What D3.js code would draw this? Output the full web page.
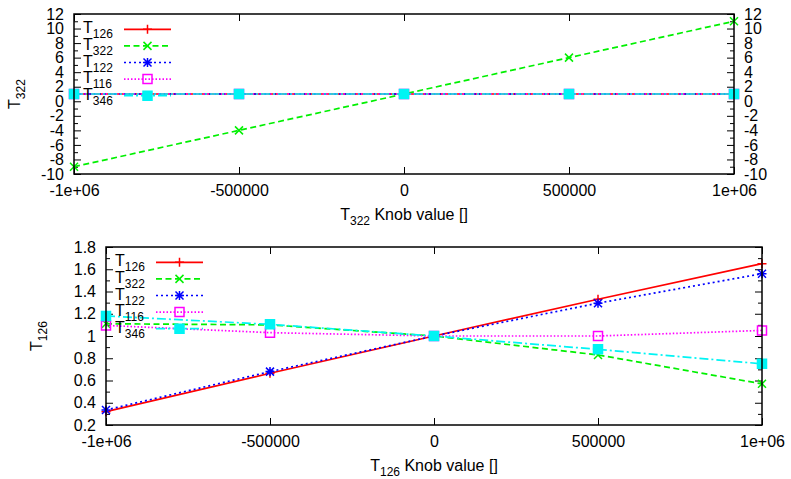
<!DOCTYPE html>
<html>
<head>
<meta charset="utf-8">
<script src="https://cdn.jsdelivr.net/npm/d3@7"></script>
<style>
  body { margin: 0; background: #fff; }
  svg { display: block; font-family: "Liberation Sans", Arial, sans-serif; }
</style>
</head>
<body>
<div id="chart"></div>
<script>
// knob values shared by both panels
const knob = [-1e6, -5e5, 0, 5e5, 1e6];
const knobLabels = ["-1e+06", "-500000", "0", "500000", "1e+06"];
const seriesIds = ["126", "322", "122", "116", "346"];

// top panel: scanning T322
const topT126 = [1, 1, 1, 1, 1];
const topT322 = [-9, -4, 1, 6, 11];
const topT122 = [1, 1, 1, 1, 1];
const topT116 = [1, 1, 1, 1, 1];
const topT346 = [1, 1, 1, 1, 1];
const topYTicks = [-10, -8, -6, -4, -2, 0, 2, 4, 6, 8, 10, 12];

// bottom panel: scanning T126
const botT126 = [0.32, 0.665, 1.0, 1.33, 1.65];
const botT322 = [1.11, 1.10, 1.0, 0.83, 0.57];
const botT122 = [0.335, 0.68, 1.0, 1.295, 1.56];
const botT116 = [1.095, 1.03, 1.0, 1.0, 1.05];
const botT346 = [1.18, 1.105, 1.0, 0.88, 0.75];
const botYTicks = [0.2, 0.4, 0.6, 0.8, 1.0, 1.2, 1.4, 1.6, 1.8];

const styles = [
    {color: "#ff0000", dash: null, marker: "plus"},
    {color: "#00f000", dash: "6,3.5", marker: "cross"},
    {color: "#0000ff", dash: "2,3", marker: "star"},
    {color: "#ff00ff", dash: "1.5,2", marker: "box"},
    {color: "#00f4f4", dash: "9,3,2,3", marker: "fbox"}
];

const svg = d3.select("#chart").append("svg")
    .attr("width", 791)
    .attr("height", 479);

function markerPath(type) {
    let s = 4.5, c = 4;
    if (type === "plus") return `M${-s},0H${s}M0,${-s}V${s}`;
    if (type === "cross") return `M${-c},${-c}L${c},${c}M${-c},${c}L${c},${-c}`;
    if (type === "star") return `M${-s},0H${s}M0,${-s}V${s}M${-c},${-c}L${c},${c}M${-c},${c}L${c},${-c}`;
    return `M${-s},${-s}H${s}V${s}H${-s}Z`;
}

function drawMarker(g, type, color, x, y) {
    let p = g.append("path")
        .attr("d", markerPath(type))
        .attr("transform", `translate(${x},${y})`)
        .attr("stroke", color)
        .attr("stroke-width", 1.5);
    if (type === "fbox") p.attr("fill", color);
    else p.attr("fill", "none");
}

function subText(sel, main, sub, rest) {
    sel.append("tspan").text(main);
    sel.append("tspan").attr("font-size", 12).attr("dy", 5).text(sub);
    if (rest) sel.append("tspan").attr("dy", -5).text(rest);
}

function drawPanel(cfg) {
    let g = svg.append("g");
    let x = d3.scaleLinear().domain([-1e6, 1e6]).range([cfg.left, cfg.right]);
    let y = d3.scaleLinear().domain(cfg.yDomain).range([cfg.bottom, cfg.top]);

    let minorY = d3.range(cfg.yDomain[0], cfg.yDomain[1] + cfg.minorStep / 2, cfg.minorStep)
        .filter((v, i) => i % 2 === 1);

    let styleAxis = a => a.call(s => s.select(".domain").remove())
        .attr("font-size", 16)
        .attr("font-family", "Liberation Sans, Arial, sans-serif")
        .call(s => s.selectAll(".tick line").attr("stroke", "#000").attr("stroke-width", 1));

    // x axes
    g.append("g").attr("transform", `translate(0,${cfg.bottom})`)
        .call(d3.axisBottom(x).tickValues(knob).tickSize(-7).tickPadding(11)
            .tickFormat((d, i) => knobLabels[i]))
        .call(styleAxis);
    g.append("g").attr("transform", `translate(0,${cfg.top})`)
        .call(d3.axisTop(x).tickValues(knob).tickSize(-7).tickFormat(""))
        .call(styleAxis);

    // y axes
    g.append("g").attr("transform", `translate(${cfg.left},0)`)
        .call(d3.axisLeft(y).tickValues(cfg.yTicks).tickSize(-7).tickPadding(10)
            .tickFormat(cfg.yFormat))
        .call(styleAxis);
    g.append("g").attr("transform", `translate(${cfg.left},0)`)
        .call(d3.axisLeft(y).tickValues(minorY).tickSize(-4).tickFormat(""))
        .call(styleAxis);
    g.append("g").attr("transform", `translate(${cfg.right},0)`)
        .call(d3.axisRight(y).tickValues(cfg.yTicks).tickSize(-7).tickPadding(10)
            .tickFormat(cfg.rightLabels ? cfg.yFormat : ""))
        .call(styleAxis);
    g.append("g").attr("transform", `translate(${cfg.right},0)`)
        .call(d3.axisRight(y).tickValues(minorY).tickSize(-4).tickFormat(""))
        .call(styleAxis);

    // data lines
    let line = d3.line().x((d, i) => x(knob[i])).y(d => y(d));
    cfg.series.forEach((vals, k) => {
        let st = styles[k];
        let lg = g.append("g");
        lg.append("path")
            .attr("d", line(vals))
            .attr("fill", "none")
            .attr("stroke", st.color)
            .attr("stroke-width", 1.7)
            .attr("stroke-dasharray", st.dash);
        vals.forEach((v, i) => drawMarker(lg, st.marker, st.color, x(knob[i]), y(v)));
    });

    // legend
    let key = g.append("g");
    seriesIds.forEach((id, k) => {
        let st = styles[k];
        let ly = cfg.top + 15.3 + k * 16.6;
        key.append("text")
            .attr("x", cfg.left + 9)
            .attr("y", ly + 4)
            .attr("font-size", 16)
            .attr("fill", "#000")
            .call(t => subText(t, "T", id));
        key.append("line")
            .attr("x1", cfg.left + 50).attr("x2", cfg.left + 97)
            .attr("y1", ly).attr("y2", ly)
            .attr("stroke", st.color)
            .attr("stroke-width", 1.7)
            .attr("stroke-dasharray", st.dash);
        drawMarker(key, st.marker, st.color, cfg.left + 73.5, ly);
    });

    // frame
    g.append("rect")
        .attr("x", cfg.left).attr("y", cfg.top)
        .attr("width", cfg.right - cfg.left).attr("height", cfg.bottom - cfg.top)
        .attr("fill", "none").attr("stroke", "#000").attr("stroke-width", 1.5);

    // axis titles
    g.append("text")
        .attr("x", (cfg.left + cfg.right) / 2)
        .attr("y", cfg.bottom + 46)
        .attr("text-anchor", "middle")
        .attr("font-size", 16)
        .call(t => subText(t, "T", cfg.knobId, " Knob value []"));
    g.append("text")
        .attr("transform", `translate(${cfg.yTitleX},${(cfg.top + cfg.bottom) / 2}) rotate(-90)`)
        .attr("text-anchor", "middle")
        .attr("font-size", 16)
        .call(t => subText(t, "T", cfg.knobId));
}

drawPanel({
    left: 74, right: 734, top: 14, bottom: 174,
    yDomain: [-10, 12], yTicks: topYTicks, minorStep: 1,
    yFormat: d => d3.format("d")(d).replace("−", "-"),
    rightLabels: true,
    series: [topT126, topT322, topT122, topT116, topT346],
    knobId: "322", yTitleX: 20
});

drawPanel({
    left: 106, right: 762, top: 247, bottom: 425,
    yDomain: [0.2, 1.8], yTicks: botYTicks, minorStep: 0.1,
    yFormat: d => Math.abs(d - 1) < 1e-9 ? "1" : d3.format(".1f")(d),
    rightLabels: false,
    series: [botT126, botT322, botT122, botT116, botT346],
    knobId: "126", yTitleX: 42
});
</script>
</body>
</html>
